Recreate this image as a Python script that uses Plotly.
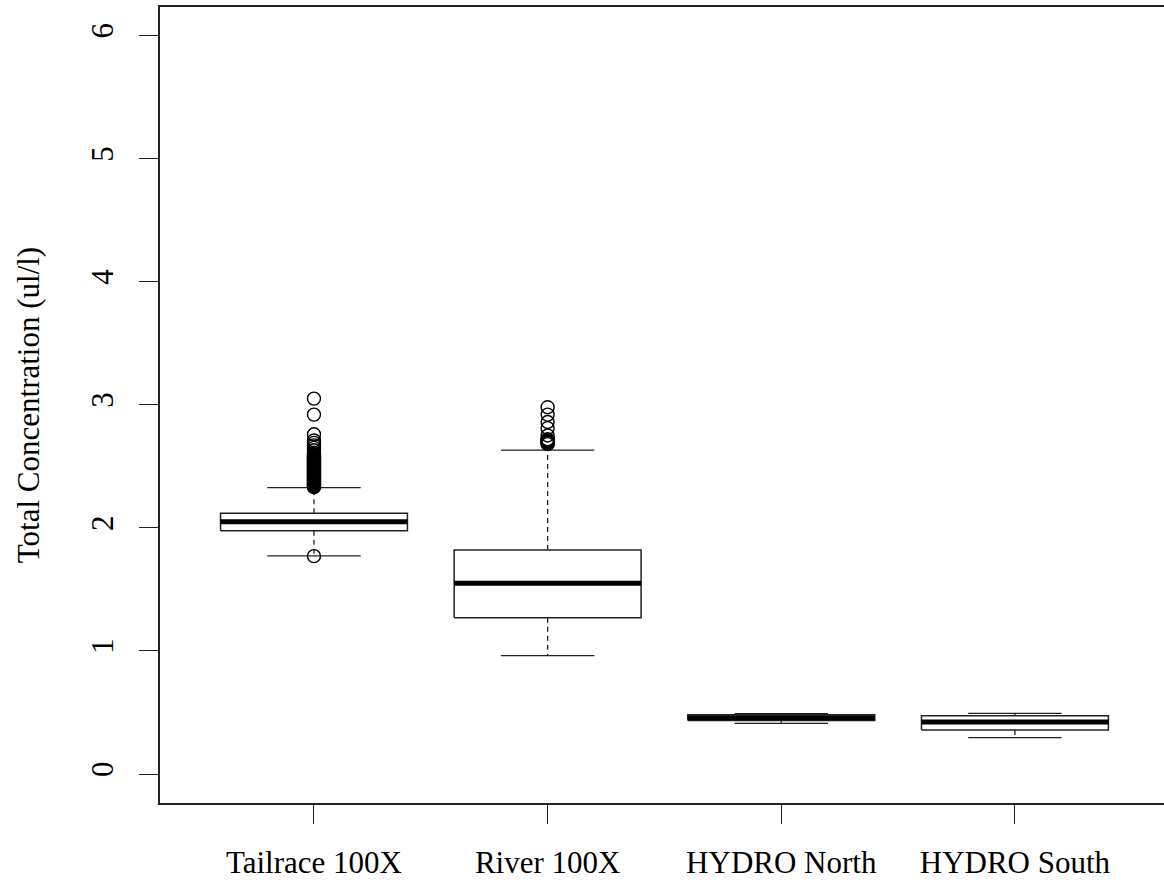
import plotly.graph_objects as go

# ---------------- data ----------------
categories = ["Tailrace 100X", "River 100X", "HYDRO North", "HYDRO South"]
lower_whisker = [1.773, 0.961, 0.412, 0.295]
q1 = [1.976, 1.270, 0.435, 0.357]
median = [2.050, 1.549, 0.458, 0.422]
q3 = [2.118, 1.820, 0.482, 0.474]
upper_whisker = [2.326, 2.632, 0.490, 0.493]

outliers_tailrace = [3.05, 2.92, 2.76, 2.71, 2.69, 2.67, 2.65, 2.63, 2.61,
                     2.60, 2.59, 2.585, 2.58, 2.575, 2.57, 2.565, 2.56, 2.555,
                     2.55, 2.545, 2.54, 2.535, 2.53, 2.525, 2.52, 2.515, 2.51,
                     2.505, 2.50, 2.495, 2.49, 2.485, 2.48, 2.475, 2.47, 2.465,
                     2.46, 2.455, 2.45, 2.445, 2.44, 2.435, 2.43, 2.425, 2.42,
                     2.415, 2.41, 2.405, 2.40, 2.395, 2.39, 2.385, 2.38, 2.375,
                     2.37, 2.365, 2.36, 2.355, 2.35, 2.345, 2.34, 2.335, 2.33,
                     1.77]
outliers_river = [2.98, 2.92, 2.86, 2.81, 2.75, 2.72, 2.715, 2.71, 2.705,
                  2.70, 2.695, 2.69, 2.68]
outliers_north = []
outliers_south = []
outliers = [outliers_tailrace, outliers_river, outliers_north, outliers_south]

# ---------------- style ----------------
BOX_HALF = 0.4
STAPLE_HALF = 0.2
FONT = "Liberation Serif"
LINE = "#222222"

positions = list(range(1, len(categories) + 1))

box_x, box_y = [], []
med_x, med_y = [], []
wh_x, wh_y = [], []
st_x, st_y = [], []
out_x, out_y = [], []
for p, lw, a, m, b, uw, outs in zip(positions, lower_whisker, q1, median, q3,
                                    upper_whisker, outliers):
    box_x += [p - BOX_HALF, p + BOX_HALF, p + BOX_HALF, p - BOX_HALF, p - BOX_HALF, None]
    box_y += [a, a, b, b, a, None]
    med_x += [p - BOX_HALF, p + BOX_HALF, None]
    med_y += [m, m, None]
    wh_x += [p, p, None, p, p, None]
    wh_y += [b, uw, None, a, lw, None]
    st_x += [p - STAPLE_HALF, p + STAPLE_HALF, None, p - STAPLE_HALF, p + STAPLE_HALF, None]
    st_y += [uw, uw, None, lw, lw, None]
    out_x += [p] * len(outs)
    out_y += outs

fig = go.Figure()
fig.add_trace(go.Scatter(x=wh_x, y=wh_y, mode="lines",
                         line=dict(color=LINE, width=1.3, dash="5px,4px"),
                         hoverinfo="skip", showlegend=False))
fig.add_trace(go.Scatter(x=st_x, y=st_y, mode="lines",
                         line=dict(color=LINE, width=1.3),
                         hoverinfo="skip", showlegend=False))
fig.add_trace(go.Scatter(x=box_x, y=box_y, mode="lines",
                         line=dict(color=LINE, width=1.5),
                         fill="toself", fillcolor="white",
                         hoverinfo="skip", showlegend=False))
fig.add_trace(go.Scatter(x=med_x, y=med_y, mode="lines",
                         line=dict(color="black", width=5),
                         hoverinfo="skip", showlegend=False))
fig.add_trace(go.Scatter(x=out_x, y=out_y, mode="markers",
                         marker=dict(symbol="circle-open", size=13,
                                     color="black", line=dict(width=1.4)),
                         showlegend=False))

fig.update_layout(
    width=1164, height=884,
    margin=dict(l=160, r=0, t=7, b=81),
    paper_bgcolor="white", plot_bgcolor="white",
    font=dict(family=FONT, size=31, color="black"),
    xaxis=dict(range=[0.341, 4.638], tickvals=positions, ticktext=categories,
               showgrid=False, zeroline=False, showline=True, mirror=True,
               linecolor=LINE, linewidth=1.5,
               ticks="outside", ticklen=19, tickwidth=1.2, tickcolor=LINE,
               ticklabelstandoff=12,
               tickfont=dict(family=FONT, size=31, color="black")),
    yaxis=dict(range=[-0.2356, 6.2316], tickvals=[0, 1, 2, 3, 4, 5, 6],
               showgrid=False, zeroline=False, showline=True, mirror=False,
               linecolor=LINE, linewidth=1.5,
               ticks="outside", ticklen=19, tickwidth=1.2, tickcolor=LINE,
               tickangle=-90, ticklabelstandoff=14,
               tickfont=dict(family=FONT, size=31, color="black"),
               title=dict(text="Total Concentration (ul/l)", standoff=36,
                          font=dict(family=FONT, size=31, color="black"))),
)

fig.write_html("out.html",
               config={"displayModeBar": False},
               post_script="document.body.style.margin='0';"
                           "document.body.style.overflow='hidden';")
